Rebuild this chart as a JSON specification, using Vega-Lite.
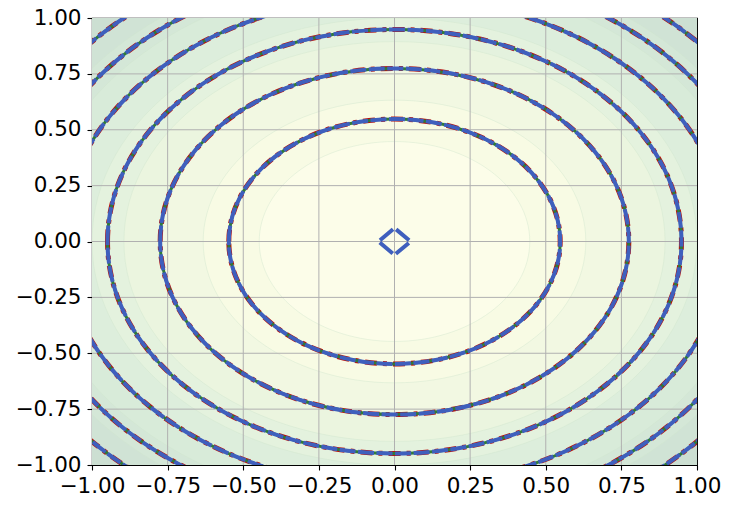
{
  "$schema": "https://vega.github.io/schema/vega-lite/v6.json",
  "width": 605,
  "height": 447,
  "autosize": {"type": "none"},
  "padding": {"left": 92, "top": 18, "right": 35, "bottom": 44},
  "config": {
    "view": {"stroke": "#000000", "strokeWidth": 1.1},
    "font": "DejaVu Sans, Verdana, Bitstream Vera Sans, sans-serif"
  },
  "datasets": {
    "fills": [
      {"x": 0, "y": 0, "level": 2.2, "band": 9},
      {"x": 0, "y": 0, "level": 1.8, "band": 8},
      {"x": 0, "y": 0, "level": 1.6, "band": 7},
      {"x": 0, "y": 0, "level": 1.4, "band": 6},
      {"x": 0, "y": 0, "level": 1.2, "band": 5},
      {"x": 0, "y": 0, "level": 1.0, "band": 4},
      {"x": 0, "y": 0, "level": 0.8, "band": 3},
      {"x": 0, "y": 0, "level": 0.6, "band": 2},
      {"x": 0, "y": 0, "level": 0.4, "band": 1},
      {"x": 0, "y": 0, "level": 0.2, "band": 0}
    ],
    "rings": [
      {"x": 0, "y": 0, "level": 0.3},
      {"x": 0, "y": 0, "level": 0.6},
      {"x": 0, "y": 0, "level": 0.9},
      {"x": 0, "y": 0, "level": 1.2},
      {"x": 0, "y": 0, "level": 1.5},
      {"x": 0, "y": 0, "level": 1.8}
    ],
    "center": [{"x": 0, "y": 0, "level": 0.0028}],
    "ticks": [
      {"t": -0.75}, {"t": -0.5}, {"t": -0.25}, {"t": 0}, {"t": 0.25}, {"t": 0.5}, {"t": 0.75}
    ]
  },
  "layer": [
    {
      "data": {"name": "fills"},
      "mark": {
        "type": "point",
        "shape": "M-1,0C-1,-0.408,-0.5523,-0.7388,0,-0.7388C0.5523,-0.7388,1,-0.408,1,0C1,0.408,0.5523,0.7388,0,0.7388C-0.5523,0.7388,-1,0.408,-1,0Z",
        "filled": true,
        "opacity": 1,
        "stroke": "#cfe5cc",
        "strokeWidth": 0.7,
        "strokeOpacity": 0.6,
        "clip": true
      },
      "encoding": {
        "x": {
          "field": "x", "type": "quantitative",
          "scale": {"domain": [-1, 1], "nice": false, "zero": false},
          "axis": {
            "values": [-1, -0.75, -0.5, -0.25, 0, 0.25, 0.5, 0.75, 1],
            "labelExpr": "replace(format(datum.value, '.2f'), '-', '\u2212')",
            "title": null, "grid": false, "labelFlush": false, "labelOverlap": false,
            "labelFont": "DejaVu Sans, Verdana, Bitstream Vera Sans, sans-serif", "labelFontSize": 21.5, "labelColor": "#000000",
            "tickColor": "#000000", "tickSize": 5, "tickWidth": 1.1,
            "domainColor": "#000000", "domainWidth": 1.1, "labelPadding": 5
          }
        },
        "y": {
          "field": "y", "type": "quantitative",
          "scale": {"domain": [-1, 1], "nice": false, "zero": false},
          "axis": {
            "values": [-1, -0.75, -0.5, -0.25, 0, 0.25, 0.5, 0.75, 1],
            "labelExpr": "replace(format(datum.value, '.2f'), '-', '\u2212')",
            "title": null, "grid": false, "labelFlush": false, "labelOverlap": false,
            "labelFont": "DejaVu Sans, Verdana, Bitstream Vera Sans, sans-serif", "labelFontSize": 21.5, "labelColor": "#000000",
            "tickColor": "#000000", "tickSize": 5, "tickWidth": 1.1,
            "domainColor": "#000000", "domainWidth": 1.1, "labelPadding": 6
          }
        },
        "size": {
          "field": "level", "type": "quantitative",
          "scale": {"type": "linear", "domain": [0, 2.2], "range": [0, 805255], "zero": true, "nice": false},
          "legend": null
        },
        "color": {
          "field": "band", "type": "ordinal",
          "scale": {
            "domain": [0, 1, 2, 3, 4, 5, 6, 7, 8, 9],
            "range": ["#fcfde9", "#f8fbe4", "#f2f8e2", "#ebf5df", "#e4f2de", "#ddeedc", "#d8ebd9", "#d4e7d7", "#d0e3d5", "#ccdfd2"]
          },
          "legend": null
        }
      }
    },
    {
      "data": {"name": "ticks"},
      "mark": {"type": "rule", "color": "#b0b0b0", "strokeWidth": 1},
      "encoding": {"x": {"field": "t", "type": "quantitative"}}
    },
    {
      "data": {"name": "ticks"},
      "mark": {"type": "rule", "color": "#b0b0b0", "strokeWidth": 1},
      "encoding": {"y": {"field": "t", "type": "quantitative"}}
    },
    {
      "data": {"name": "rings"},
      "mark": {
        "type": "point",
        "shape": "M-1,0C-1,-0.408,-0.5523,-0.7388,0,-0.7388C0.5523,-0.7388,1,-0.408,1,0C1,0.408,0.5523,0.7388,0,0.7388C-0.5523,0.7388,-1,0.408,-1,0Z",
        "filled": false,
        "opacity": 1,
        "stroke": "#b8120e",
        "strokeWidth": 5,
        "strokeDash": [12, 6, 4, 6],
        "clip": true
      },
      "encoding": {
        "x": {"field": "x", "type": "quantitative"},
        "y": {"field": "y", "type": "quantitative"},
        "size": {"field": "level", "type": "quantitative", "legend": null}
      }
    },
    {
      "data": {"name": "rings"},
      "mark": {
        "type": "point",
        "shape": "M-1,0C-1,-0.408,-0.5523,-0.7388,0,-0.7388C0.5523,-0.7388,1,-0.408,1,0C1,0.408,0.5523,0.7388,0,0.7388C-0.5523,0.7388,-1,0.408,-1,0Z",
        "filled": false,
        "opacity": 1,
        "stroke": "#2f7a3a",
        "strokeWidth": 3,
        "clip": true
      },
      "encoding": {
        "x": {"field": "x", "type": "quantitative"},
        "y": {"field": "y", "type": "quantitative"},
        "size": {"field": "level", "type": "quantitative", "legend": null}
      }
    },
    {
      "data": {"name": "rings"},
      "mark": {
        "type": "point",
        "shape": "M-1,0C-1,-0.408,-0.5523,-0.7388,0,-0.7388C0.5523,-0.7388,1,-0.408,1,0C1,0.408,0.5523,0.7388,0,0.7388C-0.5523,0.7388,-1,0.408,-1,0Z",
        "filled": false,
        "opacity": 1,
        "stroke": "#3f5fbd",
        "strokeWidth": 4,
        "strokeDash": [16, 2.5],
        "clip": true
      },
      "encoding": {
        "x": {"field": "x", "type": "quantitative"},
        "y": {"field": "y", "type": "quantitative"},
        "size": {"field": "level", "type": "quantitative", "legend": null}
      }
    },
    {
      "data": {"name": "center"},
      "mark": {
        "type": "point",
        "shape": "M-1,0L0,-0.84L1,0L0,0.84Z",
        "filled": false,
        "opacity": 1,
        "stroke": "#3f5fbd",
        "strokeWidth": 4,
        "strokeDash": [17, 4],
        "strokeDashOffset": 19,
        "clip": true
      },
      "encoding": {
        "x": {"field": "x", "type": "quantitative"},
        "y": {"field": "y", "type": "quantitative"},
        "size": {"field": "level", "type": "quantitative", "legend": null}
      }
    }
  ]
}
